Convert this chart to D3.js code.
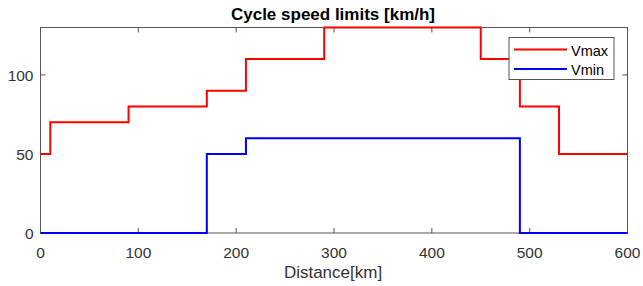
<!DOCTYPE html>
<meta charset="UTF-8">
<head>
  <script src="https://d3js.org/d3.v7.min.js"></script>
  <style>
    body { margin: 0; background: #fff; }
    text { font-family: Arial, "Liberation Sans", Helvetica, sans-serif; }
  </style>
</head>
<body>
  <svg id="svg" width="643" height="286"></svg>
  <script>
    // step breakpoints (km) and the limit that starts at each one
    const vmaxKm = [0, 10, 90, 170, 210, 290, 450, 490, 530, 600];
    const vmaxVal = [50, 70, 80, 90, 110, 130, 110, 80, 50, 50];
    const vminKm = [0, 170, 210, 490, 600];
    const vminVal = [0, 50, 60, 0, 0];
    const xTicks = [0, 100, 200, 300, 400, 500, 600];
    const yTicks = [0, 50, 100];

    const svg = d3.select("#svg");
    const pl = 40.5, pr = 627.5, pt = 27.5, pb = 233;

    const x = d3.scaleLinear().domain([0, 600]).range([pl, pr]);
    const y = d3.scaleLinear().domain([0, 130]).range([pb, pt]);

    const axisCol = "#555";

    // plot frame
    svg.append("rect")
      .attr("x", pl).attr("y", pt)
      .attr("width", pr - pl).attr("height", pb - pt)
      .attr("fill", "none").attr("stroke", axisCol).attr("stroke-width", 1);

    // ticks, inward, on all four sides like matlab box
    const g = svg.append("g").attr("stroke", axisCol).attr("stroke-width", 1);
    xTicks.forEach(t => {
      g.append("line").attr("x1", x(t)).attr("x2", x(t)).attr("y1", pb).attr("y2", pb - 5);
      g.append("line").attr("x1", x(t)).attr("x2", x(t)).attr("y1", pt).attr("y2", pt + 5);
    });
    yTicks.forEach(t => {
      g.append("line").attr("y1", y(t)).attr("y2", y(t)).attr("x1", pl).attr("x2", pl + 5);
      g.append("line").attr("y1", y(t)).attr("y2", y(t)).attr("x1", pr).attr("x2", pr - 5);
    });

    svg.selectAll(".xl").data(xTicks).enter().append("text")
      .attr("x", d => x(d)).attr("y", pb + 25)
      .attr("text-anchor", "middle").attr("font-size", 15.5).attr("fill", "#333")
      .text(d => d);
    svg.selectAll(".yl").data(yTicks).enter().append("text")
      .attr("x", pl - 7).attr("y", d => y(d) + 6)
      .attr("text-anchor", "end").attr("font-size", 15.5).attr("fill", "#333")
      .text(d => d);

    // step lines
    const line = d3.line().curve(d3.curveStepAfter).x(d => x(d[0])).y(d => y(d[1]));
    svg.append("path").datum(d3.zip(vmaxKm, vmaxVal))
      .attr("d", line).attr("fill", "none").attr("stroke", "#ff0000").attr("stroke-width", 2);
    svg.append("path").datum(d3.zip(vminKm, vminVal))
      .attr("d", line).attr("fill", "none").attr("stroke", "#0000ff").attr("stroke-width", 2);

    // title and axis label
    svg.append("text").attr("x", 333).attr("y", 20)
      .attr("text-anchor", "middle").attr("font-size", 17).attr("font-weight", "bold")
      .attr("fill", "#000").text("Cycle speed limits [km/h]");
    svg.append("text").attr("x", 333).attr("y", 278)
      .attr("text-anchor", "middle").attr("font-size", 17).attr("fill", "#333")
      .text("Distance[km]");

    // legend
    const leg = svg.append("g");
    leg.append("rect").attr("x", 509).attr("y", 37.5).attr("width", 105).attr("height", 42)
      .attr("fill", "#fff").attr("stroke", axisCol).attr("stroke-width", 1);
    [["Vmax", "#ff0000", 49.5], ["Vmin", "#0000ff", 69]].forEach(([name, col, yy]) => {
      leg.append("line").attr("x1", 514).attr("x2", 567).attr("y1", yy).attr("y2", yy)
        .attr("stroke", col).attr("stroke-width", 2);
      leg.append("text").attr("x", 571).attr("y", yy + 6).attr("font-size", 14.5)
        .attr("fill", "#000").text(name);
    });
  </script>
</body>
